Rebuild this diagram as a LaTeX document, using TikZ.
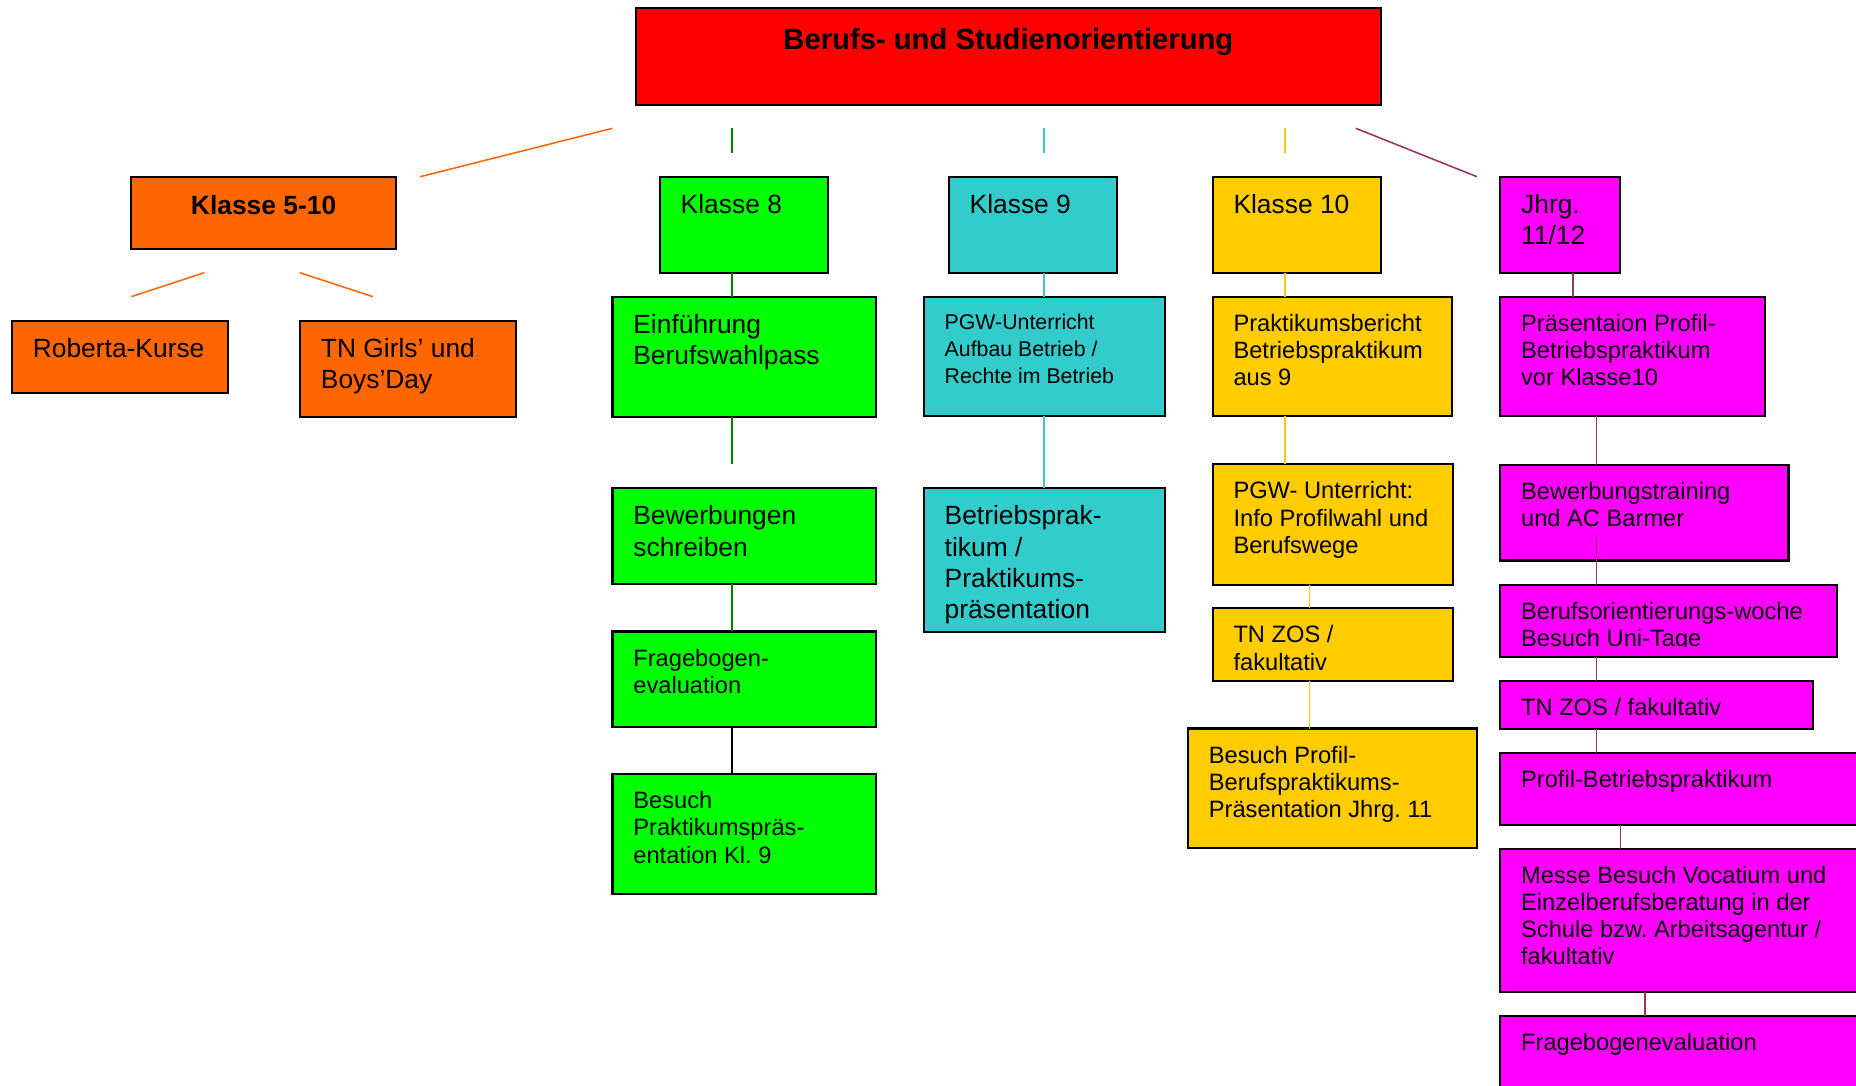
\documentclass[tikz,border=0pt]{standalone}
\usepackage{fontspec}
\setmainfont{Liberation Sans}
\usetikzlibrary{calc}
\frenchspacing

\definecolor{kred}{RGB}{255,0,0}
\definecolor{korange}{RGB}{255,102,0}
\definecolor{kgreen}{RGB}{0,255,0}
\definecolor{kcyan}{RGB}{51,204,204}
\definecolor{kyellow}{RGB}{255,204,0}
\definecolor{kmagenta}{RGB}{255,0,255}
\definecolor{lgreen}{RGB}{0,128,0}
\definecolor{lpurple}{RGB}{153,51,102}

\tikzset{
  box/.style={draw=black, line width=1.8pt, anchor=north west, inner sep=0pt, outer sep=0pt},
  txtL/.style={anchor=north west, inner sep=0pt, align=left, xshift=17.5pt, yshift=-12.6pt,
    font=\fontsize{22.3}{26.3}\selectfont},
  txtM/.style={anchor=north west, inner sep=0pt, align=left, xshift=17.5pt, yshift=-12.9pt,
    font=\fontsize{20}{23}\selectfont},
  txtS/.style={anchor=north west, inner sep=0pt, align=left, xshift=17.5pt, yshift=-11.1pt,
    font=\fontsize{18}{23}\selectfont},
  link/.style={line width=1.3pt}
}

\begin{document}
\begin{tikzpicture}[x=1pt, y=-1pt]

\useasboundingbox (0,0) rectangle (1568,917);
\fill[white] (0,0) rectangle (1568,917);
\clip (0,0) rectangle (1568,917);

% x positions of the vertical links
\coordinate (x8) at (618.6,0);
\coordinate (x9) at (882,0);
\coordinate (x10) at (1085.4,0);
\coordinate (x10b) at (1106.1,0);
\coordinate (x12) at (1328.9,0);
\coordinate (x12b) at (1348.7,0);
\coordinate (x12c) at (1369,0);
\coordinate (x12d) at (1389.5,0);

% boxes
\node[box, fill=kred, minimum width=629, minimum height=81.7] (title) at (537.4,7) {};

\node[box, fill=korange, minimum width=223.4, minimum height=61.3] (k510) at (111,149.3) {};
\node[box, fill=korange, minimum width=182.5, minimum height=60.8] (rob) at (10,270.9) {};
\node[box, fill=korange, minimum width=182.5, minimum height=81.1] (girls) at (253.4,270.9) {};

\node[box, fill=kgreen, minimum width=142.4, minimum height=81.1] (k8) at (557.4,149.3) {};
\node[box, fill=kgreen, minimum width=222.9, minimum height=101.4] (einf) at (517.4,250.6) {};
\node[box, fill=kgreen, minimum width=222.9, minimum height=81.1] (bew) at (517.4,412.3) {};
\node[box, fill=kgreen, minimum width=222.9, minimum height=81] (frage) at (517.4,533.5) {};
\node[box, fill=kgreen, minimum width=222.9, minimum height=101.3] (bes) at (517.4,654) {};

\node[box, fill=kcyan, minimum width=142.4, minimum height=81.1] (k9) at (801.5,149.3) {};
\node[box, fill=kcyan, minimum width=203.6, minimum height=101] (pgw) at (780.4,250.6) {};
\node[box, fill=kcyan, minimum width=203.6, minimum height=121.7] (bp) at (780.4,412.3) {};

\node[box, fill=kyellow, minimum width=142, minimum height=81.1] (k10) at (1024.4,149.3) {};
\node[box, fill=kyellow, minimum width=202.5, minimum height=101] (prak) at (1024.4,250.6) {};
\node[box, fill=kyellow, minimum width=202.8, minimum height=101.6] (pgw10) at (1024.4,392.3) {};
\node[box, fill=kyellow, minimum width=202.8, minimum height=61] (zos10) at (1024.4,514) {};
\node[box, fill=kyellow, minimum width=244.5, minimum height=101] (bpp) at (1003.6,615.5) {};

\node[box, fill=kmagenta, minimum width=101.5, minimum height=81.1] (jhrg) at (1267.4,149.3) {};
\node[box, fill=kmagenta, minimum width=223.4, minimum height=101] (prae) at (1267.4,250.6) {};
\node[box, fill=kmagenta, minimum width=243.6, minimum height=81] (btr) at (1267.4,392.5) {};
\node[box, fill=kmagenta, minimum width=284.5, minimum height=61] (bo) at (1267.4,494) {};
\node[box, fill=kmagenta, minimum width=264.4, minimum height=40.8] (zos12) at (1267.4,575) {};
\node[box, fill=kmagenta, minimum width=350, minimum height=60.8] (pbp) at (1267.4,636) {};
\node[box, fill=kmagenta, minimum width=350, minimum height=121.3] (messe) at (1267.4,717) {};
\node[box, fill=kmagenta, minimum width=350, minimum height=100] (fb12) at (1267.4,858.4) {};

% texts
\node[anchor=base, font=\fontsize{24.7}{29}\selectfont\bfseries] (title-t) at ([yshift=-34.7pt]title.north) {Berufs- und Studienorientierung};
\node[anchor=base, font=\fontsize{22.3}{26.3}\selectfont\bfseries] (k510-t) at ([yshift=-31.5pt]k510.north) {Klasse 5-10};

\node[txtL] (rob-t) at (rob.north west) {\strut Roberta-Kurse};
\node[txtL] (girls-t) at (girls.north west) {\strut TN Girls’ und\\Boys’Day};

\node[txtL] (k8-t) at (k8.north west) {\strut Klasse 8};
\node[txtL] (einf-t) at (einf.north west) {\strut Einführung\\Berufswahlpass};
\node[txtL] (bew-t) at (bew.north west) {\strut Bewerbungen\\schreiben};
\node[txtM] (frage-t) at (frage.north west) {\strut Fragebogen-\\evaluation};
\node[txtM] (bes-t) at (bes.north west) {\strut Besuch\\Praktikumspräs-\\entation Kl. 9};

\node[txtL] (k9-t) at (k9.north west) {\strut Klasse 9};
\node[txtS] (pgw-t) at (pgw.north west) {\strut PGW-Unterricht\\Aufbau Betrieb /\\Rechte im Betrieb};
\node[txtL] (bp-t) at (bp.north west) {\strut Betriebsprak-\\tikum /\\Praktikums-\\präsentation};

\node[txtL] (k10-t) at (k10.north west) {\strut Klasse 10};
\node[txtM] (prak-t) at (prak.north west) {\strut Praktikumsbericht\\Betriebspraktikum\\aus 9};
\node[txtM] (pgw10-t) at (pgw10.north west) {\strut PGW- Unterricht:\\Info Profilwahl und\\Berufswege};
\node[txtM] (zos10-t) at (zos10.north west) {\strut TN ZOS /\\fakultativ};
\node[txtM] (bpp-t) at (bpp.north west) {\strut Besuch Profil-\\Berufspraktikums-\\Präsentation Jhrg. 11};

\node[txtL] (jhrg-t) at (jhrg.north west) {\strut Jhrg.\\11/12};
\node[txtM] (prae-t) at (prae.north west) {\strut Präsentaion Profil-\\Betriebspraktikum\\vor Klasse10};
\node[txtM] (btr-t) at (btr.north west) {\strut Bewerbungstraining\\und AC Barmer};
\begin{scope}
  \clip (bo.north west) rectangle ([yshift=9pt]bo.south east);
  \node[txtM] (bo-t) at (bo.north west) {\strut Berufsorientierungs-woche\\Besuch Uni-Tage};
\end{scope}
\node[txtM] (zos12-t) at (zos12.north west) {\strut TN ZOS / fakultativ};
\node[txtM] (pbp-t) at (pbp.north west) {\strut Profil-Betriebspraktikum};
\node[txtM] (messe-t) at (messe.north west) {\strut Messe Besuch Vocatium und\\Einzelberufsberatung in der\\Schule bzw. Arbeitsagentur /\\fakultativ};
\node[txtM] (fb12-t) at (fb12.north west) {\strut Fragebogenevaluation};

% links
\draw[link, korange] ([shift={(-20pt,-19.7pt)}]title.south west) -- ([xshift=20.5pt]k510.north east);
\draw[link, korange] ([shift={(61.5pt,-19.8pt)}]k510.south west) -- ([shift={(101pt,20.3pt)}]rob.north west);
\draw[link, korange] ([shift={(-81pt,-19.8pt)}]k510.south east) -- ([shift={(61.6pt,20.3pt)}]girls.north west);

\draw[link, lgreen] ([yshift=-19.7pt]title.south -| x8) -- ([yshift=19.8pt]k8.north -| x8);
\draw[link, lgreen] (k8.south -| x8) -- (einf.north -| x8);
\draw[link, lgreen] (einf.south -| x8) -- ([yshift=20.3pt]bew.north -| x8);
\draw[link, lgreen] (bew.south -| x8) -- (frage.north -| x8);
\draw[link, black] (frage.south -| x8) -- (bes.north -| x8);

\draw[link, kcyan] ([yshift=-19.7pt]title.south -| x9) -- ([yshift=19.8pt]k9.north -| x9);
\draw[link, kcyan] (k9.south -| x9) -- (pgw.north -| x9);
\draw[link, kcyan] (pgw.south -| x9) -- (bp.north -| x9);

\draw[link, kyellow] ([yshift=-19.7pt]title.south -| x10) -- ([yshift=19.8pt]k10.north -| x10);
\draw[link, kyellow] (k10.south -| x10) -- (prak.north -| x10);
\draw[link, kyellow] (prak.south -| x10) -- (pgw10.north -| x10);
\draw[link, kyellow] (pgw10.south -| x10b) -- (zos10.north -| x10b);
\draw[link, kyellow] (zos10.south -| x10b) -- (bpp.north -| x10b);

\draw[link, lpurple] ([shift={(-21pt,-19.7pt)}]title.south east) -- ([xshift=-19.6pt]jhrg.north west);
\draw[link, lpurple] (jhrg.south -| x12) -- (prae.north -| x12);
\draw[link, lpurple] (prae.south -| x12b) -- (btr.north -| x12b);
\draw[link, lpurple] ([yshift=20.2pt]btr.south -| x12b) -- (bo.north -| x12b);
\draw[link, lpurple] (bo.south -| x12b) -- (zos12.north -| x12b);
\draw[link, lpurple] (zos12.south -| x12b) -- (pbp.north -| x12b);
\draw[link, lpurple] (pbp.south -| x12c) -- (messe.north -| x12c);
\draw[link, lpurple] (messe.south -| x12d) -- (fb12.north -| x12d);

\end{tikzpicture}
\end{document}
